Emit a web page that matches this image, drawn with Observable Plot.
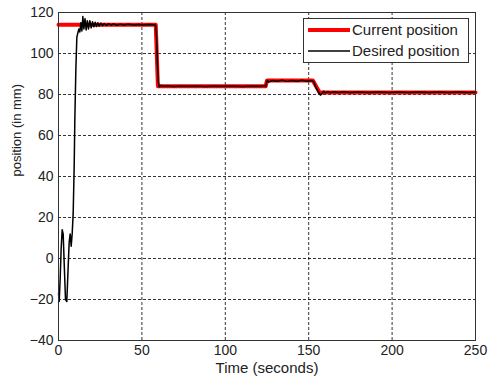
<!DOCTYPE html>
<html>
<head>
<meta charset="utf-8">
<script src="https://cdn.jsdelivr.net/npm/d3@7"></script>
<script src="https://cdn.jsdelivr.net/npm/@observablehq/plot@0.6"></script>
<style>
html, body { margin: 0; padding: 0; background: #fff; }
#chart { width: 489px; height: 384px; }
</style>
</head>
<body>
<div id="chart"></div>
<script>
// Tick values
const xTicks = [0, 50, 100, 150, 200, 250];
const yTicks = [-40, -20, 0, 20, 40, 60, 80, 100, 120];
const xLabel = "Time (seconds)";
const yLabel = "position (in mm)";
const seriesNames = ["Current position", "Desired position"];

// Current position (red) : time, value
const currentT = [0, 58.3, 59.6, 124.2, 125.0, 152.5, 156.5, 250];
const currentY = [114, 114, 84, 84, 86.8, 86.8, 81, 81];

// Desired position (black) : time, value
const desiredT = [0, 0.4, 1.0, 1.6, 2.2, 2.8, 3.4, 4.2, 5.0, 5.6, 6.4, 7.0, 7.6, 8.2, 8.8, 9.4, 9.8, 10.4, 11.0, 11.6,
  12.2, 12.8, 13.4, 14.0, 14.6, 15.2, 15.9, 16.6, 17.3, 18.0, 18.8, 19.6, 20.4, 21.2, 22.0, 22.8, 23.6, 24.4, 25.4, 26.4,
  27.4, 28.6, 30, 31.5, 33, 35, 37, 39, 42, 45, 48, 51, 54, 57, 58.2, 58.8, 59.3, 59.8, 60.4, 61.5,
  63, 66, 69, 73, 78, 83, 88, 93, 98, 104, 110, 116, 121, 123.5, 124.3, 124.8, 125.4, 126, 128, 131,
  134, 137, 140, 143, 146, 149, 151.5, 153, 154, 155, 156, 157, 158, 159, 160, 161.5, 163, 165, 168, 171,
  175, 180, 186, 192, 198, 204, 210, 216, 222, 228, 234, 240, 245, 250];
const desiredY = [-17, -21, -10, 5, 14, 12, -2, -20, -21, -8, 8, 12, 6, 12, 22, 45, 68, 92, 108, 110,
  112, 110.5, 115, 111, 118, 112, 117, 111.5, 116, 112, 116, 112.5, 115.5, 113, 115.2, 113.2, 115, 113.4, 114.8, 113.6,
  114.6, 113.7, 114.5, 113.8, 114.4, 113.8, 114.3, 113.9, 114.3, 113.9, 114.2, 113.9, 114.2, 114, 113.8, 108, 95, 86, 83.8, 84.4,
  84, 84.3, 83.9, 84.2, 84, 84.2, 83.9, 84.1, 84, 84.2, 83.9, 84.1, 84, 84.3, 84, 86, 86.9, 86, 86.8, 86.5,
  86.9, 86.4, 86.8, 86.5, 86.9, 86.5, 86.8, 86.3, 84, 82.5, 81, 79.7, 80.5, 81.6, 80.8, 81.4, 80.9, 81.3, 81, 81.3,
  81, 81.2, 81, 81.2, 81, 81.2, 81, 81.2, 81, 81.2, 81, 81.2, 81, 81.1];

const current = currentT.map((t, i) => ({t, v: currentY[i]}));
const desired = desiredT.map((t, i) => ({t, v: desiredY[i]}));

const font = "'Liberation Sans', Arial, sans-serif";

const plot = Plot.plot({
  width: 489,
  height: 384,
  marginLeft: 58,
  marginRight: 14,
  marginTop: 12,
  marginBottom: 44,
  style: {fontFamily: font, fontSize: "14px", color: "#222", background: "#fff"},
  x: {domain: [0, 250], ticks: xTicks, tickSize: 0, tickPadding: 5, label: null},
  y: {domain: [-40, 120], ticks: yTicks, tickSize: 0, tickPadding: 5, label: null},
  marks: [
    Plot.ruleX(xTicks.slice(1, -1), {stroke: "#000", strokeWidth: 0.8, strokeDasharray: "3,2"}),
    Plot.ruleY(yTicks.slice(1, -1), {stroke: "#000", strokeWidth: 0.8, strokeDasharray: "3,2"}),
    Plot.line(current, {x: "t", y: "v", stroke: "#ff0000", strokeWidth: 4}),
    Plot.line(desired, {x: "t", y: "v", stroke: "#000", strokeWidth: 1.5}),
    Plot.frame({stroke: "#333", strokeWidth: 1}),
    Plot.text([xLabel], {frameAnchor: "bottom", dy: 32, fontSize: 15, fill: "#222"}),
    Plot.text([yLabel], {frameAnchor: "left", rotate: -90, dx: -42, fontSize: 13, fill: "#222"})
  ]
});

document.getElementById("chart").appendChild(plot);

// Legend (inside plot, top-right)
const svg = d3.select(plot);
const lg = svg.append("g").attr("font-family", font).attr("font-size", 15)
  .attr("fill", "#222").attr("text-anchor", "start");
lg.append("rect").attr("x", 303.5).attr("y", 18.5).attr("width", 165).attr("height", 44)
  .attr("fill", "#fff").attr("stroke", "#333");
const colors = ["#ff0000", "#000"];
const widths = [4, 1.5];
seriesNames.forEach((name, i) => {
  const cy = 30 + i * 21;
  lg.append("line").attr("x1", 308).attr("x2", 350).attr("y1", cy).attr("y2", cy)
    .attr("stroke", colors[i]).attr("stroke-width", widths[i]);
  lg.append("text").attr("x", 352).attr("y", cy).attr("dy", "0.35em")
    .attr("text-anchor", "start").text(name);
});
</script>
</body>
</html>
